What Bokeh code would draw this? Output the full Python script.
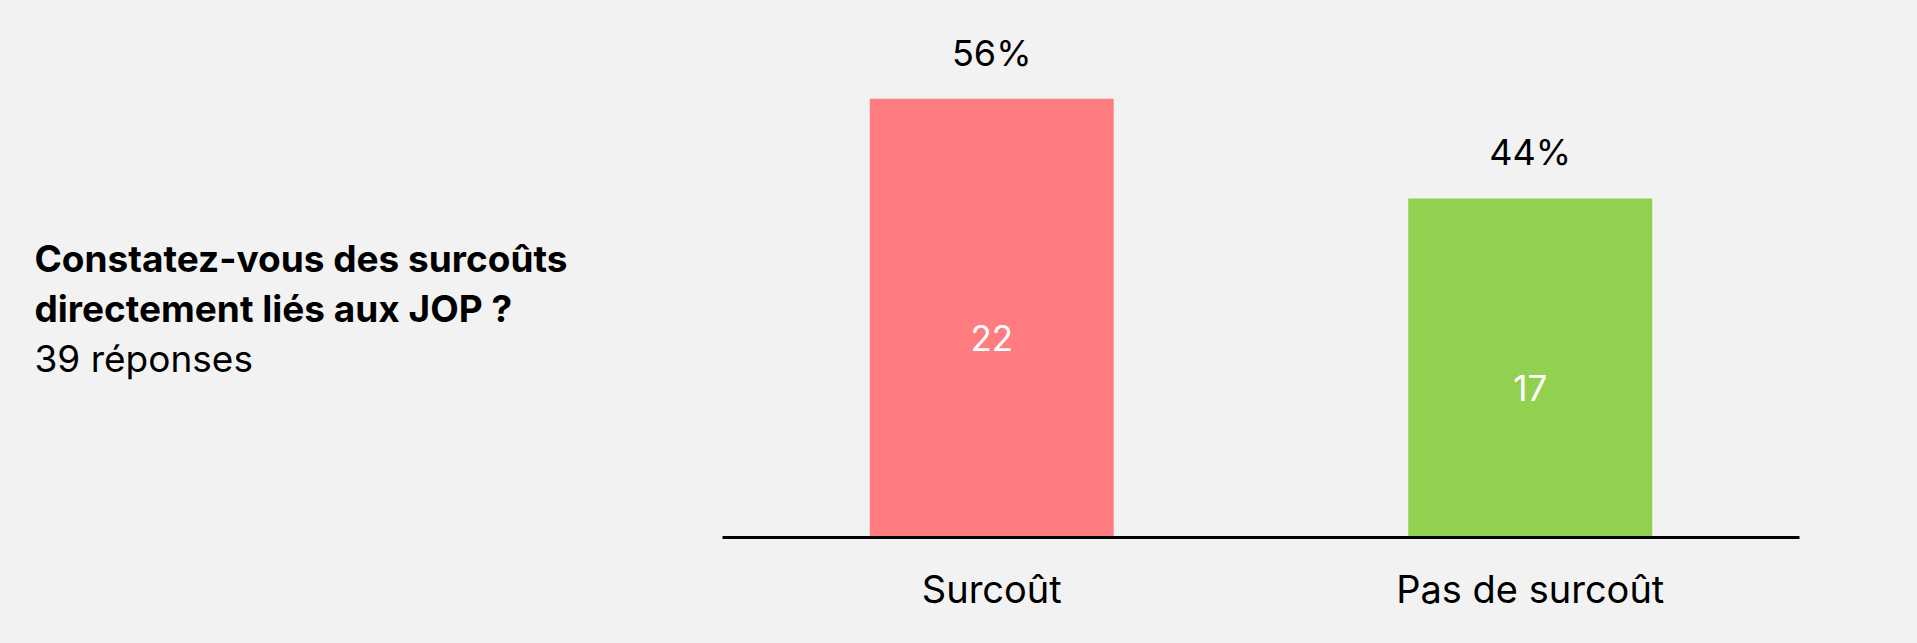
from bokeh.plotting import figure
from bokeh.models import ColumnDataSource, FactorRange, Range1d
from bokeh.layouts import row
from bokeh.core.properties import value
from bokeh.embed import file_html
from bokeh.resources import INLINE

# ---- data ----
categories = ["Surcoût", "Pas de surcoût"]
counts = [22, 17]
colors = ["#FF7C80", "#92D050"]
title_lines = ["Constatez-vous des surcoûts", "directement liés aux JOP ?"]
subtitle = "39 réponses"

total = sum(counts)
pct_labels = [f"{round(c / total * 100)}%" for c in counts]
count_labels = [str(c) for c in counts]
half = [c / 2 for c in counts]

src = ColumnDataSource(dict(cat=categories, val=counts, color=colors,
                            pct=pct_labels, cnt=count_labels, half=half))

FONT = "Inter"
BG = "#F2F2F2"
W, H = 1917, 643
LEFT_W = 722
BOTTOM = 106
FRAME_H = H - BOTTOM

# ---- title panel ----
t = figure(width=LEFT_W, height=H, output_backend="svg", toolbar_location=None,
           x_range=Range1d(0, LEFT_W), y_range=Range1d(FRAME_H, 0),
           min_border_left=0, min_border_right=0,
           min_border_top=0, min_border_bottom=BOTTOM)
t.background_fill_color = BG
t.border_fill_color = BG
t.outline_line_color = None
t.grid.visible = False
t.axis.visible = False
t.text(x=[34, 34], y=[258, 308], text=title_lines, text_font=value(FONT),
       text_font_size="37px", text_font_style="bold", text_color="#000000",
       text_baseline="alphabetic", text_align="left")
t.text(x=[34], y=[358], text=[subtitle], text_font=value(FONT),
       text_font_size="37px", text_color="#000000",
       text_baseline="alphabetic", text_align="left")

# ---- chart ----
p = figure(width=W - LEFT_W, height=H, output_backend="svg", toolbar_location=None,
           x_range=FactorRange(*categories, range_padding=0),
           y_range=Range1d(0, 26.92),
           min_border_left=0, min_border_right=118,
           min_border_top=0, min_border_bottom=BOTTOM)
p.background_fill_color = BG
p.border_fill_color = BG
p.outline_line_color = None
p.grid.visible = False
p.yaxis.visible = False

p.vbar(x="cat", top="val", width=0.453, color="color", line_color=None, source=src)

p.text(x="cat", y="val", text="pct", source=src, text_align="center",
       text_baseline="alphabetic", y_offset=-46, text_color="#000000",
       text_font=value(FONT), text_font_size="36px")
p.text(x="cat", y="half", text="cnt", source=src, text_align="center",
       text_baseline="alphabetic", y_offset=20, text_color="#FFFFFF",
       text_font=value(FONT), text_font_size="35px")

ax = p.xaxis[0]
ax.axis_line_color = "#000000"
ax.axis_line_width = 3
ax.major_tick_line_color = None
ax.minor_tick_line_color = None
ax.major_label_text_font = FONT
ax.major_label_text_font_size = "38px"
ax.major_label_text_color = "#000000"
ax.major_label_standoff = 22

layout = row(t, p, spacing=0)
layout.styles = {"background-color": BG}

html = file_html(layout, INLINE)
html = html.replace("<body>", f'<body style="background:{BG};">', 1)
open("out.html", "w").write(html)
